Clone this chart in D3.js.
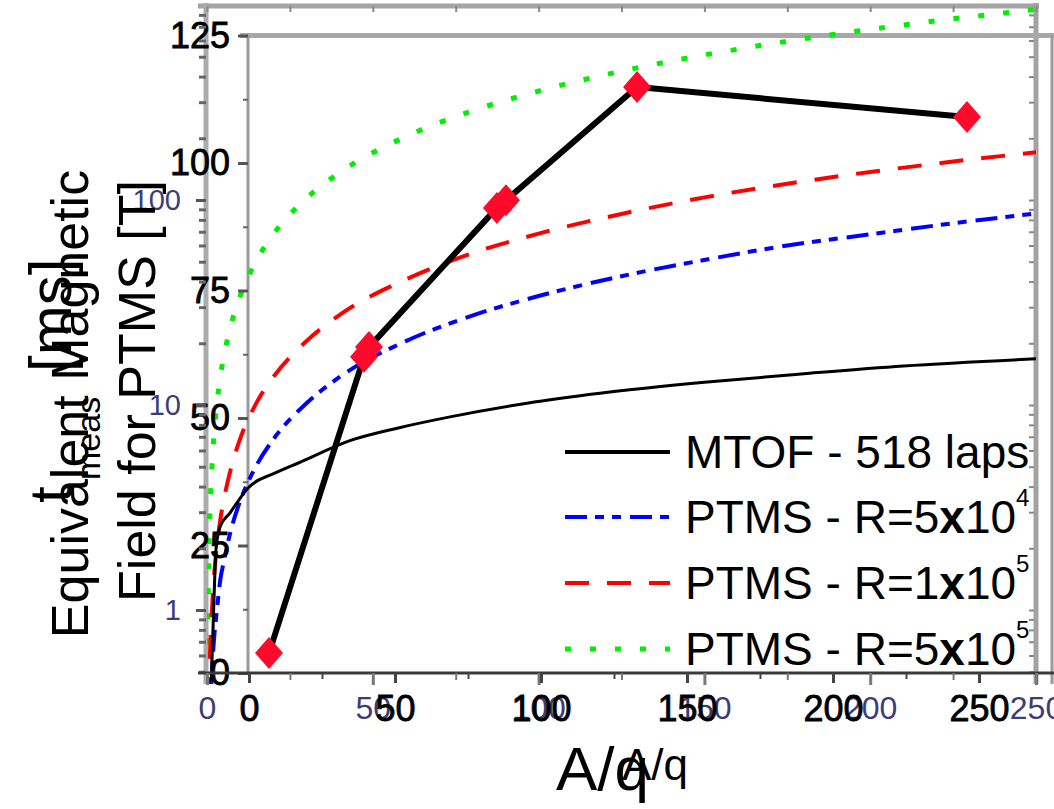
<!DOCTYPE html>
<html><head><meta charset="utf-8">
<script src="https://cdn.jsdelivr.net/npm/d3@7"></script>
<style>html,body{margin:0;padding:0;background:#fff;} svg{display:block;}</style>
</head><body><svg id="chart" width="1054" height="809"></svg>
<script>
// ---------- data ----------
// outer chart (log y): PTMS equivalent field vs A/q
const ptmsAq   = [0.2, 0.5, 1, 1.5, 2, 3, 4, 5, 7.5, 10, 15, 20, 30, 40, 60, 80, 100, 125, 150, 175, 200, 225, 250];
const ptmsR5e4 = [0.07, 0.17, 0.34, 0.5, 0.68, 1.0, 1.4, 1.7, 2.55, 3.4, 5.1, 6.8, 10.2, 13.7, 20.5, 27.3, 34, 42.5, 51, 60, 68, 77, 86];
const ptmsR1e5 = [0.14, 0.34, 0.68, 1.0, 1.37, 2.05, 2.75, 3.4, 5.1, 6.85, 10.3, 13.7, 20.5, 27.5, 41, 55, 68.5, 85.5, 103, 120, 137, 154, 171];
const ptmsR5e5 = [0.68, 1.7, 3.4, 5.0, 6.8, 10.2, 13.7, 17, 25.5, 34, 51, 68, 102, 136, 204, 272, 340, 425, 510, 595, 680, 765, 850];
// outer chart: MTOF measurement time
const mtofAq   = [1.3, 2.1, 2.7, 3.9, 6.9, 12.4, 21.1, 28, 43.1, 58, 73.3, 96.5, 118.5, 150, 180, 210, 250];
const mtofTime = [0.45, 1.12, 1.96, 2.54, 2.97, 3.94, 4.7, 5.25, 6.7, 7.75, 8.75, 10.2, 11.4, 12.9, 14.2, 15.5, 16.8];
// inner chart (linear y): measured points
const measAq    = [6.85, 39.4, 41.1, 84.9, 88.0, 132.9, 245.9];
const measField = [3.9, 62.0, 63.9, 91.2, 92.7, 114.9, 109.0];
// ticks
const innerYTicks = [0, 25, 50, 75, 100, 125];
const innerYMinor = [12.5, 37.5, 62.5, 87.5, 112.5];
const innerXTicks = [0, 50, 100, 150, 200, 250];
const innerXMinor = [25, 75, 125, 175, 225];
const outerXTicks = [0, 50, 100, 150, 200, 250];
const outerXMinor = [25, 75, 125, 175, 225];
const outerYTicks = [1, 10, 100];
const outerYMinor = [0.5, 0.6, 0.7, 0.8, 0.9, 2, 3, 4, 5, 6, 7, 8, 9, 20, 30, 40, 50, 60, 70, 80, 90, 200, 300, 400, 500, 600, 700, 800];
// legend
const legendNames = ["MTOF - 518 laps", "PTMS - R=5", "PTMS - R=1", "PTMS - R=5"];
const legendExp   = ["", "4", "5", "5"];

// ---------- setup ----------
const FONT = "'Liberation Sans', Arial, Helvetica, sans-serif";
const LABELC = "#3c3c78";
const svg = d3.select("#chart");
const xO = d3.scaleLinear().domain([0, 250]).range([207, 1036]);
const yO = d3.scaleLog().domain([1, 100]).range([610, 200]);
const xI = d3.scaleLinear().domain([0, 275]).range([249, 1052]);
const yI = d3.scaleLinear().domain([0, 125]).range([673, 35.5]);

const oTop = 6, oBot = yI(0);
svg.append("defs").append("clipPath").attr("id", "clipO")
  .append("rect").attr("x", xO(0)).attr("y", oTop).attr("width", xO(250) - xO(0)).attr("height", 684 - oTop);

// ---------- frames ----------
const fr = svg.append("g");
function ln(x1, y1, x2, y2, c, w) {
  fr.append("line").attr("x1", x1).attr("y1", y1).attr("x2", x2).attr("y2", y2)
    .attr("stroke", c).attr("stroke-width", w);
}
ln(198, oTop, xO(250) + 3, oTop, "#a4a4a4", 5);
ln(xO(0) - 1, 3, xO(0) - 1, 684, "#ababab", 5);
ln(xO(250), 3, xO(250), 684, "#a2a2a2", 5);
ln(240, yI(125), 1054, yI(125), "#a8a8a8", 5);
ln(xI(0) - 1, yI(125), xI(0) - 1, oBot, "#9a9a9a", 3);
ln(xI(275), yI(125), xI(275), 684, "#9a9a9a", 3);

// ---------- outer curves ----------
const gO = svg.append("g").attr("clip-path", "url(#clipO)");
function pathO(xs, ys) {
  return d3.line().x((d, i) => xO(xs[i])).y((d, i) => yO(ys[i])).curve(d3.curveMonotoneX)(xs);
}
gO.append("path").attr("d", pathO(ptmsAq, ptmsR5e5)).attr("fill", "none")
  .attr("stroke", "#00ee00").attr("stroke-width", 5).attr("stroke-dasharray", "6,19");
gO.append("path").attr("d", pathO(ptmsAq, ptmsR1e5)).attr("fill", "none")
  .attr("stroke", "#ff0000").attr("stroke-width", 4).attr("stroke-dasharray", "24,18");
gO.append("path").attr("d", pathO(ptmsAq, ptmsR5e4)).attr("fill", "none")
  .attr("stroke", "#0000ff").attr("stroke-width", 4).attr("stroke-dasharray", "22,8,9,8,9,9");
gO.append("path").attr("d", pathO(mtofAq, mtofTime)).attr("fill", "none")
  .attr("stroke", "#000").attr("stroke-width", 3);

// ---------- inner measured line + diamonds ----------
const gI = svg.append("g");
gI.append("path")
  .attr("d", d3.line().x((d, i) => xI(measAq[i])).y((d, i) => yI(measField[i]))(measAq))
  .attr("fill", "none").attr("stroke", "#000").attr("stroke-width", 6).attr("stroke-linejoin", "round");
gI.selectAll("path.dia").data(measAq).join("path").attr("class", "dia")
  .attr("transform", (d, i) => `translate(${xI(d)},${yI(measField[i])})`)
  .attr("d", "M0,-16L14,0L0,16L-14,0Z").attr("fill", "#ff0a2a");

// ---------- axes ----------
function styleAxis(g, tc, tw) {
  g.select(".domain").remove();
  g.selectAll(".tick line").attr("stroke", tc).attr("stroke-width", tw);
}
function heavy(sel) { sel.attr("stroke", "#000").attr("stroke-width", 0.8); }
// inner y
let g = svg.append("g").attr("transform", `translate(${xI(0) - 1},0)`)
  .call(d3.axisLeft(yI).tickValues(innerYTicks).tickSize(10).tickPadding(8));
styleAxis(g, "#555", 3);
g.selectAll("text").attr("font-size", 36).attr("font-family", FONT).attr("fill", "#000").call(heavy);
g = svg.append("g").attr("transform", `translate(${xI(0) - 1},0)`)
  .call(d3.axisLeft(yI).tickValues(innerYMinor).tickSize(5).tickFormat(""));
styleAxis(g, "#666", 2);

// outer y (log)
g = svg.append("g").attr("transform", `translate(${xO(0) - 1},0)`)
  .call(d3.axisLeft(yO).tickValues(outerYTicks).tickFormat(d3.format("d")).tickSize(10).tickPadding(15));
styleAxis(g, "#555", 3);
g.selectAll("text").attr("font-size", 29).attr("font-family", FONT).attr("fill", LABELC);
g = svg.append("g").attr("transform", `translate(${xO(0) - 1},0)`)
  .call(d3.axisLeft(yO).tickValues(outerYMinor).tickSize(7).tickFormat(""));
styleAxis(g, "#666", 3);
g = svg.append("g").attr("transform", `translate(${xO(250) - 2},0)`)
  .call(d3.axisLeft(yO).tickValues(outerYTicks.concat(outerYMinor).filter(v => yO(v) > 8)).tickSize(5).tickFormat(""));
styleAxis(g, "#888", 2);
// outer top ticks
g = svg.append("g").attr("transform", `translate(0,${oTop})`)
  .call(d3.axisBottom(xO).tickValues(outerXTicks.concat(outerXMinor)).tickSize(6).tickFormat(""));
styleAxis(g, "#888", 2);

// bottom axis line
svg.append("line").attr("x1", 198).attr("x2", 1054).attr("y1", oBot).attr("y2", oBot)
  .attr("stroke", "#3a3a3a").attr("stroke-width", 3);
// outer x
g = svg.append("g").attr("transform", `translate(0,${oBot})`)
  .call(d3.axisBottom(xO).tickValues(outerXTicks).tickSize(12).tickPadding(11));
styleAxis(g, "#777", 3);
g.selectAll("text").attr("font-size", 32).attr("font-family", FONT).attr("fill", LABELC);
g = svg.append("g").attr("transform", `translate(0,${oBot})`)
  .call(d3.axisBottom(xO).tickValues(outerXMinor).tickSize(7).tickFormat(""));
styleAxis(g, "#777", 2);
// inner x
g = svg.append("g").attr("transform", `translate(0,${oBot})`)
  .call(d3.axisBottom(xI).tickValues(innerXTicks).tickSize(10).tickPadding(12));
styleAxis(g, "#444", 3);
g.selectAll("text").attr("font-size", 36).attr("font-family", FONT).attr("fill", "#000").call(heavy);
g = svg.append("g").attr("transform", `translate(0,${oBot})`)
  .call(d3.axisBottom(xI).tickValues(innerXMinor).tickSize(6).tickFormat(""));
styleAxis(g, "#444", 2);

// ---------- legend ----------
const legY = [452, 517, 583, 649];
const legStyles = [
  {c: "#000", w: 4, d: null},
  {c: "#0000ff", w: 4, d: "22,8,9,8,9,9"},
  {c: "#ff0000", w: 4, d: "24,18"},
  {c: "#00ee00", w: 5, d: "6,19"}
];
const lg = svg.append("g");
legendNames.forEach((name, i) => {
  const s = legStyles[i];
  lg.append("line").attr("x1", 565).attr("x2", 670).attr("y1", legY[i]).attr("y2", legY[i])
    .attr("stroke", s.c).attr("stroke-width", s.w).attr("stroke-dasharray", s.d);
  const t = lg.append("text").attr("x", 685).attr("y", legY[i] + 16)
    .attr("font-family", FONT).attr("font-size", 46).attr("fill", "#000");
  t.append("tspan").text(name);
  if (legendExp[i]) {
    t.append("tspan").attr("font-weight", "bold").text("x");
    t.append("tspan").text("10");
    t.append("tspan").attr("font-size", 24).attr("dy", -27).text(legendExp[i]);
  }
});

// ---------- titles ----------
function rot(x, y, txt, size, anchor) {
  svg.append("text").attr("transform", `translate(${x},${y}) rotate(-90)`)
    .attr("text-anchor", anchor).attr("font-family", FONT).attr("font-size", size)
    .attr("fill", "#000").text(txt);
}
rot(88, 404, "Equivalent Magnetic", 52, "middle");
rot(155, 391, "Field for PTMS [T]", 52, "middle");
rot(71, 503, "t", 60, "start");
rot(100, 480, "meas", 34, "start");
rot(71, 372, "[ms]", 60, "start");

svg.append("text").attr("x", 556).attr("y", 790).attr("font-family", FONT)
  .attr("font-size", 62).attr("fill", "#000").text("A/q");
svg.append("text").attr("x", 622).attr("y", 780).attr("font-family", FONT)
  .attr("font-size", 44).attr("fill", "#000").text("A/q");
</script></body></html>
